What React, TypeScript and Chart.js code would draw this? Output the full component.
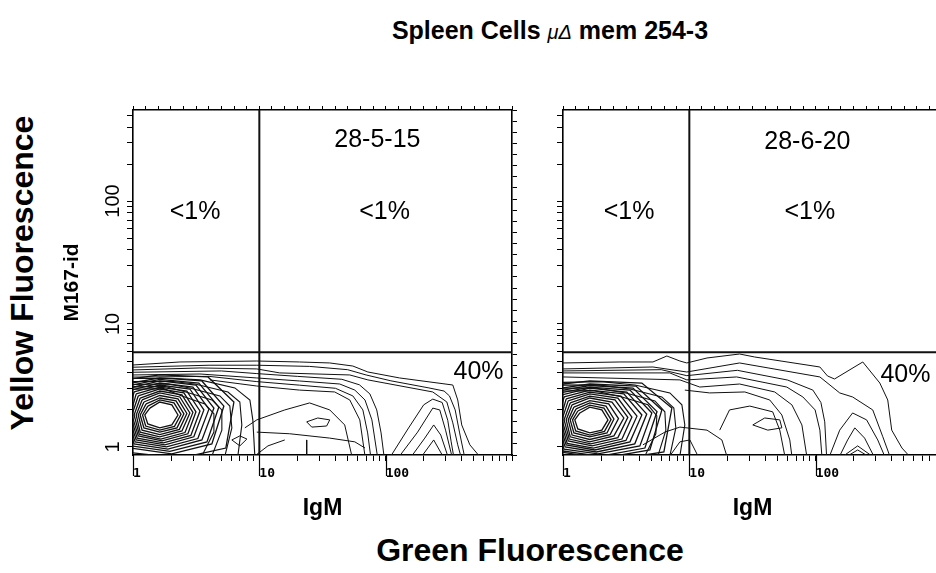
import React, { useEffect, useRef } from "react";
import { Chart, registerables } from "chart.js";

Chart.register(...registerables);

type Pt = [number, number];
type Note = [string, number, number];

// ---------- axes ----------
const xRange: Pt = [1, 1000];
const yRange: Pt = [0.86, 550];
const xTickValues = [1, 2, 3, 4, 5, 6, 7, 8, 9, 10, 20, 30, 40, 50, 60, 70, 80, 90, 100, 200, 300, 400, 500, 600, 700, 800, 900, 1000];
const yTickValues = [1, 2, 3, 4, 5, 6, 7, 8, 9, 10, 20, 30, 40, 50, 60, 70, 80, 90, 100, 200, 300, 400, 500];
const xLabelValues = [1, 10, 100];
const yLabelValues = [1, 10, 100];
const topChannelMax = 30;
const sideChannelMax = 31;

// ---------- gates ----------
const gateX = 10;
const gateY = 5.9;

// ---------- quadrant texts ----------
const leftNotes: Note[] = [
  ["28-5-15", 86, 313],
  ["<1%", 3.1, 81],
  ["<1%", 98, 81],
  ["40%", 543, 4.07],
];
const rightNotes: Note[] = [
  ["28-6-20", 86, 302],
  ["<1%", 3.33, 81],
  ["<1%", 90, 81],
  ["40%", 514, 3.85],
];

// ---------- left panel contours (28-5-15) ----------
const leftCore: Pt[][] = [
  [[1.36, 2.07], [1.63, 2.32], [2.03, 2.2], [2.27, 1.82], [2.03, 1.51], [1.63, 1.43], [1.31, 1.54], [1.24, 1.82], [1.36, 2.07]],
  [[1.31, 2.15], [1.63, 2.41], [2.11, 2.28], [2.4, 1.84], [2.13, 1.47], [1.63, 1.37], [1.26, 1.48], [1.19, 1.82], [1.31, 2.15]],
  [[1.27, 2.24], [1.63, 2.5], [2.19, 2.37], [2.53, 1.86], [2.23, 1.43], [1.63, 1.32], [1.22, 1.43], [1.14, 1.82], [1.27, 2.24]],
  [[1.22, 2.32], [1.63, 2.62], [2.27, 2.46], [2.67, 1.87], [2.33, 1.39], [1.63, 1.26], [1.18, 1.37], [1.1, 1.82], [1.22, 2.32]],
  [[1.18, 2.41], [1.63, 2.75], [2.35, 2.55], [2.82, 1.89], [2.44, 1.35], [1.63, 1.21], [1.14, 1.32], [1.06, 1.82], [1.18, 2.41]],
  [[1.14, 2.5], [1.63, 2.85], [2.44, 2.65], [2.98, 1.91], [2.58, 1.31], [1.66, 1.16], [1.12, 1.27], [1.02, 1.82], [1.14, 2.5]],
  [[1.1, 2.6], [1.63, 2.96], [2.53, 2.75], [3.15, 1.93], [2.72, 1.28], [1.7, 1.12], [1.1, 1.23], [0.98, 1.82], [1.1, 2.6]],
  [[1.06, 2.7], [1.63, 3.07], [2.67, 2.85], [3.39, 1.96], [2.87, 1.24], [1.74, 1.08], [1.08, 1.18], [0.95, 1.82], [1.06, 2.7]],
  [[1.02, 2.8], [1.63, 3.19], [2.82, 2.96], [3.64, 2.0], [3.03, 1.21], [1.79, 1.04], [1.06, 1.14], [0.913, 1.82], [1.02, 2.8]],
  [[0.98, 2.91], [1.63, 3.31], [2.98, 3.07], [3.99, 2.03], [3.26, 1.17], [1.84, 1.0], [1.04, 1.1], [0.88, 1.82], [0.98, 2.91]],
  [[0.947, 3.02], [1.63, 3.44], [3.15, 3.19], [4.37, 2.07], [3.51, 1.14], [1.89, 0.96], [1.02, 1.06], [0.849, 1.82], [0.947, 3.02]],
  [[0.91, 3.13], [1.63, 3.54], [3.32, 3.31], [4.78, 2.11], [3.85, 1.1], [1.96, 0.92], [0.98, 1.02], [0.82, 1.82], [0.91, 3.13]],
  [[0.88, 3.25], [1.63, 3.64], [3.51, 3.44], [5.24, 2.15], [4.21, 1.06], [2.03, 0.88], [0.947, 0.98], [0.789, 1.82], [0.88, 3.25]],
  [[0.849, 3.51], [1.63, 3.85], [3.92, 3.71], [6.29, 2.32], [5.43, 0.98], [2.35, 0.81], [0.88, 0.91], [0.761, 1.82], [0.849, 3.51]],
];
const leftHooks: Pt[][] = [
  [[1, 3.6], [2.0, 3.62], [3.39, 3.51], [6.4, 3.02], [8.42, 2.41], [8.88, 1.66], [9.21, 0.845]],
  [[1, 3.4], [2.0, 3.42], [3.09, 3.25], [5.64, 2.8], [7.01, 2.32], [7.27, 1.51], [6.76, 0.845]],
  [[1, 3.22], [1.9, 3.25], [2.82, 3.02], [4.87, 2.6], [5.84, 2.15], [6.06, 1.43], [5.34, 0.845]],
  [[1, 3.08], [1.8, 3.1], [2.62, 2.8], [4.21, 2.41], [5.05, 2.0], [5.05, 1.37], [4.21, 0.845]],
  [[1, 2.95], [1.75, 2.98], [2.44, 2.6], [3.71, 2.24], [4.37, 1.86], [4.37, 1.32], [3.51, 0.845]],
];
const leftBands: Pt[][] = [
  [[1, 4.64], [2.35, 4.91], [9.55, 5.0], [20.8, 4.91], [36.1, 4.82], [55, 4.55], [72.3, 4.07], [129, 3.64], [340, 3.19], [372, 2.41], [400, 1.51], [464, 1.04], [550, 0.845]],
  [[1, 4.45], [4, 4.62], [9.55, 4.62], [25, 4.52], [50, 4.25], [70, 3.85], [110, 3.45], [220, 3.02], [290, 2.85], [320, 2.6], [355, 2.0], [385, 1.3], [420, 0.845]],
  [[1, 4.23], [3.39, 4.39], [9.55, 4.31], [14.5, 4.0], [52, 3.85], [72.3, 3.51], [236, 2.8], [305, 2.32], [340, 1.57], [372, 1.04], [393, 0.845]],
  [[1, 4.05], [5, 4.15], [9.55, 3.95], [20, 3.75], [45, 3.55], [62, 3.2], [75, 2.7], [85, 2.0], [92, 1.3], [97, 0.845]],
  [[1, 3.85], [3.39, 3.92], [9.55, 3.64], [20.8, 3.44], [43.3, 3.25], [57, 2.9], [68.6, 2.41], [77.8, 1.66], [86, 0.845]],
  [[1, 3.7], [4, 3.75], [9.55, 3.4], [20.8, 3.18], [40, 3.0], [55, 2.6], [66, 2.0], [72, 1.3], [76, 0.845]],
  [[4.06, 3.51], [9.55, 3.13], [20.8, 2.9], [39.5, 2.8], [52, 2.41], [62.4, 1.66], [68.6, 0.845]],
  [[7.68, 1.43], [9.55, 1.66], [15.9, 2.0], [25, 2.28], [36.1, 2.0], [47.4, 1.51], [54, 0.845]],
  [[9.55, 1.32], [17.4, 1.28], [36.1, 1.18], [57, 1.1], [68.6, 0.98]],
  [[9.21, 0.845], [11.7, 1.02], [15.9, 1.14]],
  [[23.7, 1.14], [23.7, 0.845]],
  [[110, 0.845], [150, 1.4], [200, 2.2], [236, 2.45], [280, 2.3], [310, 1.65], [330, 1.1], [345, 0.845]],
  [[129, 0.845], [179, 1.32], [236, 2.07], [268, 2.0], [298, 1.37], [334, 0.845]],
  [[161, 0.845], [204, 1.18], [240, 1.51], [273, 1.25], [310, 0.845]],
  [[194, 0.845], [240, 1.14], [283, 0.845]],
];
const leftIslands: Pt[][] = [
  [[23.7, 1.6], [29, 1.72], [36.1, 1.66], [34.1, 1.48], [26, 1.45], [23.7, 1.6]],
  [[6.06, 1.14], [7.01, 1.23], [7.97, 1.16], [7.01, 1.02], [6.06, 1.14]],
];

// ---------- right panel contours (28-6-20) ----------
const rightCore: Pt[][] = [
  [[1.36, 1.89], [1.63, 2.11], [2.03, 2.0], [2.27, 1.66], [2.03, 1.37], [1.63, 1.3], [1.31, 1.4], [1.24, 1.66], [1.36, 1.89]],
  [[1.31, 1.96], [1.63, 2.19], [2.11, 2.07], [2.4, 1.67], [2.13, 1.34], [1.63, 1.25], [1.26, 1.35], [1.19, 1.66], [1.31, 1.96]],
  [[1.27, 2.04], [1.63, 2.28], [2.19, 2.15], [2.53, 1.69], [2.23, 1.3], [1.63, 1.21], [1.22, 1.3], [1.14, 1.66], [1.27, 2.04]],
  [[1.22, 2.11], [1.63, 2.38], [2.3, 2.24], [2.75, 1.7], [2.36, 1.26], [1.63, 1.15], [1.18, 1.25], [1.1, 1.66], [1.22, 2.11]],
  [[1.18, 2.2], [1.63, 2.5], [2.44, 2.32], [3.03, 1.72], [2.53, 1.23], [1.63, 1.1], [1.14, 1.21], [1.06, 1.66], [1.18, 2.2]],
  [[1.14, 2.28], [1.63, 2.59], [2.58, 2.41], [3.26, 1.74], [2.72, 1.19], [1.66, 1.06], [1.12, 1.16], [1.02, 1.66], [1.14, 2.28]],
  [[1.1, 2.37], [1.63, 2.7], [2.72, 2.5], [3.51, 1.75], [2.93, 1.16], [1.7, 1.02], [1.1, 1.12], [0.98, 1.66], [1.1, 2.37]],
  [[1.06, 2.46], [1.63, 2.79], [2.87, 2.59], [3.85, 1.78], [3.15, 1.13], [1.74, 0.98], [1.08, 1.07], [0.95, 1.66], [1.06, 2.46]],
  [[1.02, 2.55], [1.63, 2.9], [3.03, 2.7], [4.21, 1.82], [3.39, 1.1], [1.79, 0.945], [1.06, 1.04], [0.913, 1.66], [1.02, 2.55]],
  [[0.98, 2.65], [1.63, 3.01], [3.2, 2.79], [4.6, 1.85], [3.7, 1.06], [1.84, 0.91], [1.04, 1.0], [0.88, 1.66], [0.98, 2.65]],
  [[0.947, 2.75], [1.63, 3.07], [3.39, 2.9], [5.05, 1.89], [4.06, 1.02], [1.89, 0.88], [1.02, 0.96], [0.849, 1.66], [0.947, 2.75]],
  [[0.91, 2.85], [1.63, 3.16], [3.58, 3.01], [5.55, 1.94], [4.45, 0.98], [1.96, 0.84], [0.98, 0.93], [0.82, 1.66], [0.91, 2.85]],
  [[0.88, 2.96], [1.63, 3.25], [3.78, 3.13], [6.06, 2.0], [4.87, 0.945], [2.03, 0.81], [0.947, 0.91], [0.789, 1.66], [0.88, 2.96]],
  [[0.849, 3.19], [1.63, 3.44], [4.21, 3.31], [7.27, 2.07], [6.29, 0.91], [2.35, 0.78], [0.88, 0.86], [0.761, 1.66], [0.849, 3.19]],
];
const rightHooks: Pt[][] = [
  [[1, 3.35], [2.0, 3.4], [3.71, 3.19], [7.01, 2.75], [8.73, 2.2], [9.21, 1.51], [8.42, 0.845]],
  [[1, 3.18], [1.9, 3.2], [3.39, 2.96], [6.06, 2.55], [7.54, 2.07], [7.82, 1.43], [7.01, 0.845]],
  [[1, 3.0], [1.8, 3.02], [3.15, 2.75], [5.34, 2.37], [6.4, 1.93], [6.52, 1.37], [5.64, 0.845]],
  [[1, 2.85], [1.75, 2.87], [2.93, 2.55], [4.7, 2.2], [5.53, 1.79], [5.43, 1.28], [4.45, 0.845]],
];
const rightBands: Pt[][] = [
  [[1, 4.82], [2.82, 4.91], [5.15, 4.91], [6.64, 5.49], [8.42, 5.0], [9.55, 4.82], [13.8, 5.29], [25, 5.7], [32.9, 5.39], [108, 4.47], [124, 3.78], [141, 3.57], [236, 4.91], [322, 3.31], [372, 2.41], [400, 1.37], [482, 0.98], [550, 0.845]],
  [[1, 4.31], [5.15, 4.47], [9.55, 4.07], [25, 4.82], [108, 3.71], [155, 2.75], [196, 2.55], [283, 2.0], [340, 1.21], [386, 0.845]],
  [[1, 4.15], [6, 4.25], [9.55, 3.8], [24, 4.2], [60, 3.5], [95, 2.9], [110, 2.3], [118, 1.6], [122, 0.845]],
  [[1, 4.0], [7.01, 4.0], [9.55, 3.51], [23.7, 3.71], [59.1, 3.07], [79.2, 2.55], [99, 2.0], [108, 1.37], [112, 0.845]],
  [[1, 3.71], [8.42, 3.51], [12.1, 3.07], [25, 3.25], [47.4, 2.8], [64.8, 2.2], [77.8, 1.51], [85, 0.845]],
  [[9.21, 2.9], [14.5, 2.75], [27.5, 2.8], [43.3, 2.41], [54, 1.82], [62.4, 1.14], [64.8, 0.845]],
  [[17.4, 1.37], [20.8, 2.0], [30.1, 2.15], [45.7, 1.93], [52, 1.37], [57, 0.845]],
  [[4.29, 1.04], [6.4, 1.32], [8.42, 1.45], [13.8, 1.37], [18.1, 1.14], [19.8, 0.845]],
  [[7.01, 0.845], [8.42, 1.1], [10.1, 1.14], [11.7, 0.845]],
  [[129, 0.845], [155, 1.37], [196, 1.89], [253, 1.66], [310, 1.14], [351, 0.845]],
  [[155, 0.845], [179, 1.14], [204, 1.43], [244, 1.18], [288, 0.845]],
  [[166, 0.845], [215, 1.02], [278, 0.845]],
  [[179, 0.845], [215, 0.945], [258, 0.845]],
];
const rightIslands: Pt[][] = [
  [[31.8, 1.51], [39.5, 1.72], [52, 1.66], [54, 1.43], [41.8, 1.37], [31.8, 1.51]],
];

// ---------- chart construction ----------
const FONT = "'Liberation Sans', Arial, Helvetica, sans-serif";
Chart.defaults.font.family = FONT;
Chart.defaults.color = "#000";

function lineSet(pts: Pt[], width: number) {
  return {
    data: pts.map(([x, y]) => ({ x, y })),
    showLine: true,
    borderColor: "#111",
    borderWidth: width,
    pointRadius: 0,
    pointHoverRadius: 0,
    fill: false,
    tension: 0,
  };
}

const notesPlugin = {
  id: "quadNotes",
  afterDatasetsDraw(chart: any, _a: any, opts: any) {
    const notes: Note[] = opts.notes || [];
    const { ctx, scales } = chart;
    ctx.save();
    ctx.fillStyle = "#000";
    ctx.textAlign = "center";
    ctx.textBaseline = "middle";
    ctx.font = `25px ${FONT}`;
    notes.forEach(([t, x, y]) => {
      ctx.fillText(t, scales.x.getPixelForValue(x), scales.y.getPixelForValue(y));
    });
    ctx.restore();
  },
};

const majorTickPlugin = {
  id: "majorTicks",
  afterDraw(chart: any) {
    const { ctx, scales, chartArea } = chart;
    ctx.save();
    ctx.strokeStyle = "#000";
    ctx.lineWidth = 1.2;
    xLabelValues.forEach((v) => {
      const px = Math.round(scales.x.getPixelForValue(v)) + 0.5;
      ctx.beginPath();
      ctx.moveTo(px, chartArea.bottom);
      ctx.lineTo(px, chartArea.bottom + 21);
      ctx.stroke();
    });
    ctx.restore();
  },
};

function makePanel(
  canvas: HTMLCanvasElement,
  core: Pt[][],
  hooks: Pt[][],
  bands: Pt[][],
  islands: Pt[][],
  notes: Note[],
  showY: boolean
) {
  const datasets: any[] = [];
  core.forEach((c) => datasets.push(lineSet(c, 1.3)));
  hooks.forEach((c) => datasets.push(lineSet(c, 1.1)));
  bands.forEach((c) => datasets.push(lineSet(c, 1)));
  islands.forEach((c) => datasets.push(lineSet(c, 1)));
  datasets.push(lineSet([[gateX, yRange[0]], [gateX, yRange[1]]], 2));
  datasets.push(lineSet([[xRange[0], gateY], [xRange[1], gateY]], 2));

  const tickGrid = (len: number) => ({
    drawOnChartArea: false,
    drawTicks: true,
    tickLength: len,
    color: "#000",
    lineWidth: 1,
  });
  const border = { display: true, color: "#000", width: 1.6 };

  return new Chart(canvas, {
    type: "scatter",
    data: { datasets },
    plugins: [notesPlugin, majorTickPlugin],
    options: {
      animation: false,
      responsive: false,
      maintainAspectRatio: false,
      events: [],
      layout: { padding: 0 },
      plugins: {
        legend: { display: false },
        tooltip: { enabled: false },
        quadNotes: { notes },
      } as any,
      scales: {
        x: {
          type: "logarithmic",
          position: "bottom",
          min: xRange[0],
          max: xRange[1],
          afterBuildTicks: (s: any) => {
            s.ticks = xTickValues.map((v) => ({ value: v }));
          },
          afterFit: (s: any) => {
            s.height = 75;
          },
          ticks: {
            autoSkip: false,
            maxRotation: 0,
            minRotation: 0,
            align: "start",
            padding: 5,
            color: "#000",
            font: { family: "'DejaVu Sans Mono', monospace", weight: "bold", size: 13 },
            callback: (v: any) => (xLabelValues.includes(Number(v)) ? String(v) : ""),
          },
          grid: tickGrid(6),
          border,
          title: {
            display: true,
            text: "IgM",
            color: "#000",
            font: { family: FONT, weight: "bold", size: 23 },
            padding: { top: 0, bottom: 8 },
          },
        },
        y: {
          type: "logarithmic",
          position: "left",
          min: yRange[0],
          max: yRange[1],
          afterBuildTicks: (s: any) => {
            s.ticks = yTickValues.map((v) => ({ value: v }));
          },
          afterFit: (s: any) => {
            s.width = 133;
          },
          ticks: {
            autoSkip: false,
            minRotation: 90,
            maxRotation: 90,
            crossAlign: "center",
            padding: -3,
            color: "#000",
            font: { family: FONT, size: 20 },
            callback: (v: any) => (showY && yLabelValues.includes(Number(v)) ? String(v) : ""),
          },
          grid: tickGrid(6),
          border,
          title: {
            display: showY,
            text: "M167-id",
            color: "#000",
            font: { family: FONT, weight: "bold", size: 21 },
            padding: { top: 60, bottom: 0 },
          },
        },
        x2: {
          type: "linear",
          position: "top",
          min: 0,
          max: topChannelMax,
          afterFit: (s: any) => {
            s.height = 20;
          },
          ticks: { stepSize: 1, autoSkip: false, callback: () => "" },
          grid: tickGrid(4),
          border,
        },
        y2: {
          type: "linear",
          position: "right",
          min: 0,
          max: sideChannelMax,
          afterFit: (s: any) => {
            s.width = 28;
          },
          ticks: { stepSize: 1, autoSkip: false, callback: () => "" },
          grid: tickGrid(5),
          border,
        },
      } as any,
    },
  } as any);
}

export default function App() {
  const leftRef = useRef<HTMLCanvasElement>(null);
  const rightRef = useRef<HTMLCanvasElement>(null);

  useEffect(() => {
    const a = makePanel(leftRef.current!, leftCore, leftHooks, leftBands, leftIslands, leftNotes, true);
    const b = makePanel(rightRef.current!, rightCore, rightHooks, rightBands, rightIslands, rightNotes, false);
    return () => {
      a.destroy();
      b.destroy();
    };
  }, []);

  const canvasStyle = (left: number): React.CSSProperties => ({
    position: "absolute",
    left,
    top: 90,
    width: 540,
    height: 440,
  });

  return (
    <div
      style={{
        position: "fixed",
        left: 0,
        top: 0,
        width: 936,
        height: 573,
        overflow: "hidden",
        background: "#fff",
        fontFamily: FONT,
        color: "#000",
      }}
    >
      <div
        style={{
          position: "absolute",
          left: 550,
          top: 30,
          transform: "translate(-50%, -50%)",
          whiteSpace: "nowrap",
          fontWeight: "bold",
          fontSize: 25,
        }}
      >
        Spleen Cells{" "}
        <span style={{ fontStyle: "italic", fontWeight: "normal", fontSize: 20 }}>μΔ</span> mem 254-3
      </div>
      <div
        style={{
          position: "absolute",
          left: 22,
          top: 273,
          transform: "translate(-50%, -50%) rotate(-90deg)",
          whiteSpace: "nowrap",
          fontWeight: "bold",
          fontSize: 32,
        }}
      >
        Yellow Fluorescence
      </div>
      <div
        style={{
          position: "absolute",
          left: 530,
          top: 550,
          transform: "translate(-50%, -50%)",
          whiteSpace: "nowrap",
          fontWeight: "bold",
          fontSize: 32,
        }}
      >
        Green Fluorescence
      </div>
      <canvas ref={leftRef} width={540} height={440} style={canvasStyle(0)} />
      <canvas ref={rightRef} width={540} height={440} style={canvasStyle(430)} />
    </div>
  );
}
